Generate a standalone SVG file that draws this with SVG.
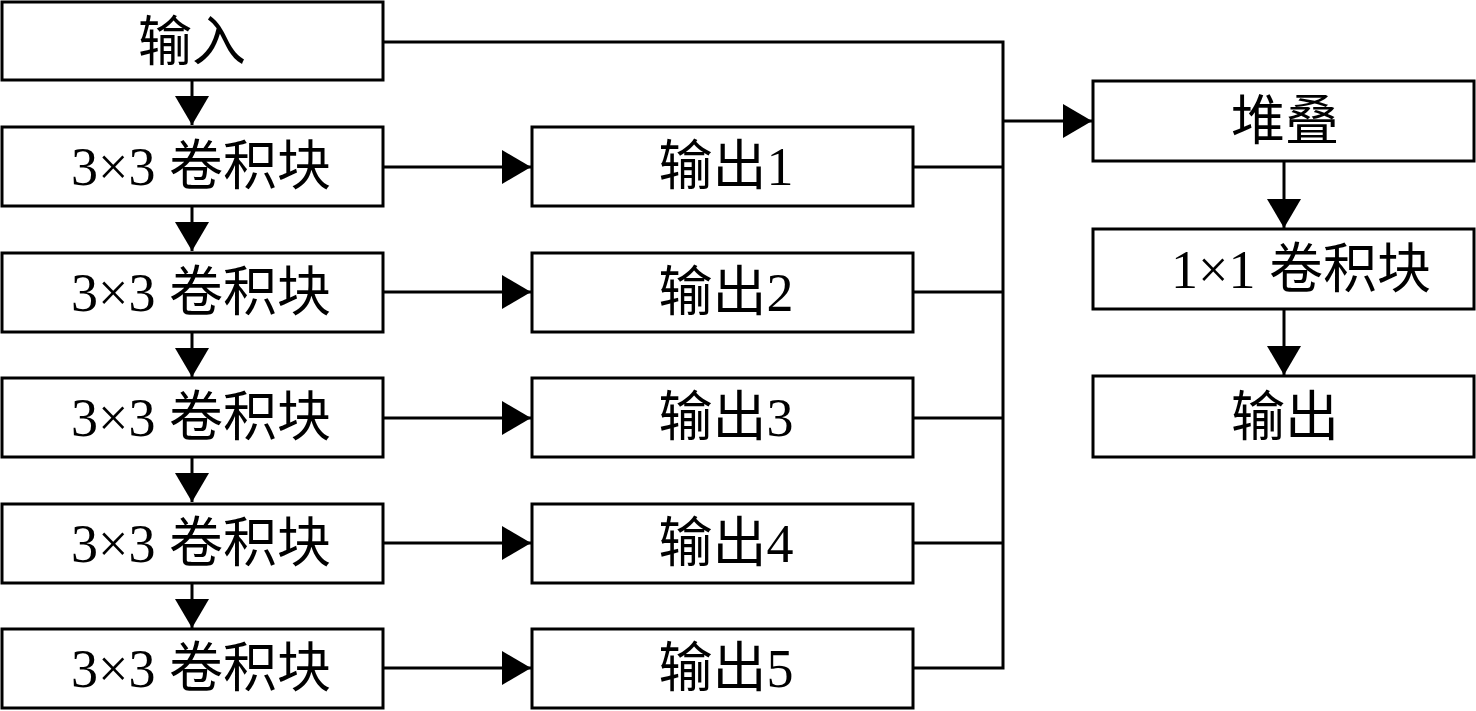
<svg xmlns="http://www.w3.org/2000/svg" width="1476" height="711" viewBox="0 0 1476 711">
<style>
.box{fill:#fff;stroke:#000;stroke-width:3}
.ln{fill:none;stroke:#000;stroke-width:3}
.ah{fill:#000;stroke:none}
text{font-family:"Liberation Serif","Noto Sans CJK SC",serif;font-size:54px;fill:#000}
</style>
<defs>
<marker id="arr" markerUnits="userSpaceOnUse" markerWidth="30" markerHeight="34" refX="29" refY="17" orient="auto" viewBox="0 0 30 34">
<path d="M0,0 L29,17 L0,34 Z" class="ah"/>
</marker>
</defs>
<g id="connectors">
<line class="ln" x1="192" y1="80" x2="192" y2="125" marker-end="url(#arr)"/>
<line class="ln" x1="192" y1="206" x2="192" y2="251" marker-end="url(#arr)"/>
<line class="ln" x1="192" y1="332" x2="192" y2="377" marker-end="url(#arr)"/>
<line class="ln" x1="192" y1="457" x2="192" y2="502" marker-end="url(#arr)"/>
<line class="ln" x1="192" y1="583" x2="192" y2="628" marker-end="url(#arr)"/>
<line class="ln" x1="383" y1="167" x2="531" y2="167" marker-end="url(#arr)"/>
<line class="ln" x1="383" y1="292" x2="531" y2="292" marker-end="url(#arr)"/>
<line class="ln" x1="383" y1="418" x2="531" y2="418" marker-end="url(#arr)"/>
<line class="ln" x1="383" y1="543" x2="531" y2="543" marker-end="url(#arr)"/>
<line class="ln" x1="383" y1="668" x2="531" y2="668" marker-end="url(#arr)"/>
<polyline class="ln" points="383,42 1003,42 1003,668 913,668"/>
<line class="ln" x1="913" y1="167" x2="1003" y2="167"/>
<line class="ln" x1="913" y1="292" x2="1003" y2="292"/>
<line class="ln" x1="913" y1="418" x2="1003" y2="418"/>
<line class="ln" x1="913" y1="543" x2="1003" y2="543"/>
<line class="ln" x1="1003" y1="121" x2="1092" y2="121" marker-end="url(#arr)"/>
<line class="ln" x1="1284" y1="161" x2="1284" y2="228" marker-end="url(#arr)"/>
<line class="ln" x1="1284" y1="309" x2="1284" y2="375" marker-end="url(#arr)"/>
</g>
<g id="input"><rect class="box" x="2" y="2" width="381" height="78"/><text x="192" y="61" text-anchor="middle">输入</text></g>
<g id="conv1"><rect class="box" x="2" y="127" width="381" height="79"/><text x="201" y="185" text-anchor="middle">3×3 卷积块</text></g>
<g id="conv2"><rect class="box" x="2" y="253" width="381" height="79"/><text x="201" y="311" text-anchor="middle">3×3 卷积块</text></g>
<g id="conv3"><rect class="box" x="2" y="378" width="381" height="79"/><text x="201" y="436" text-anchor="middle">3×3 卷积块</text></g>
<g id="conv4"><rect class="box" x="2" y="504" width="381" height="79"/><text x="201" y="562" text-anchor="middle">3×3 卷积块</text></g>
<g id="conv5"><rect class="box" x="2" y="629" width="381" height="79"/><text x="201" y="687" text-anchor="middle">3×3 卷积块</text></g>
<g id="out1"><rect class="box" x="532" y="127" width="381" height="79"/><text x="726" y="185" text-anchor="middle">输出1</text></g>
<g id="out2"><rect class="box" x="532" y="253" width="381" height="79"/><text x="726" y="311" text-anchor="middle">输出2</text></g>
<g id="out3"><rect class="box" x="532" y="378" width="381" height="79"/><text x="726" y="436" text-anchor="middle">输出3</text></g>
<g id="out4"><rect class="box" x="532" y="504" width="381" height="79"/><text x="726" y="562" text-anchor="middle">输出4</text></g>
<g id="out5"><rect class="box" x="532" y="629" width="381" height="79"/><text x="726" y="687" text-anchor="middle">输出5</text></g>
<g id="stack"><rect class="box" x="1093" y="81" width="381" height="80"/><text x="1285" y="140" text-anchor="middle">堆叠</text></g>
<g id="conv1x1"><rect class="box" x="1093" y="229" width="381" height="80"/><text x="1301" y="288" text-anchor="middle">1×1 卷积块</text></g>
<g id="output"><rect class="box" x="1093" y="376" width="381" height="81"/><text x="1285" y="436" text-anchor="middle">输出</text></g>
</svg>
